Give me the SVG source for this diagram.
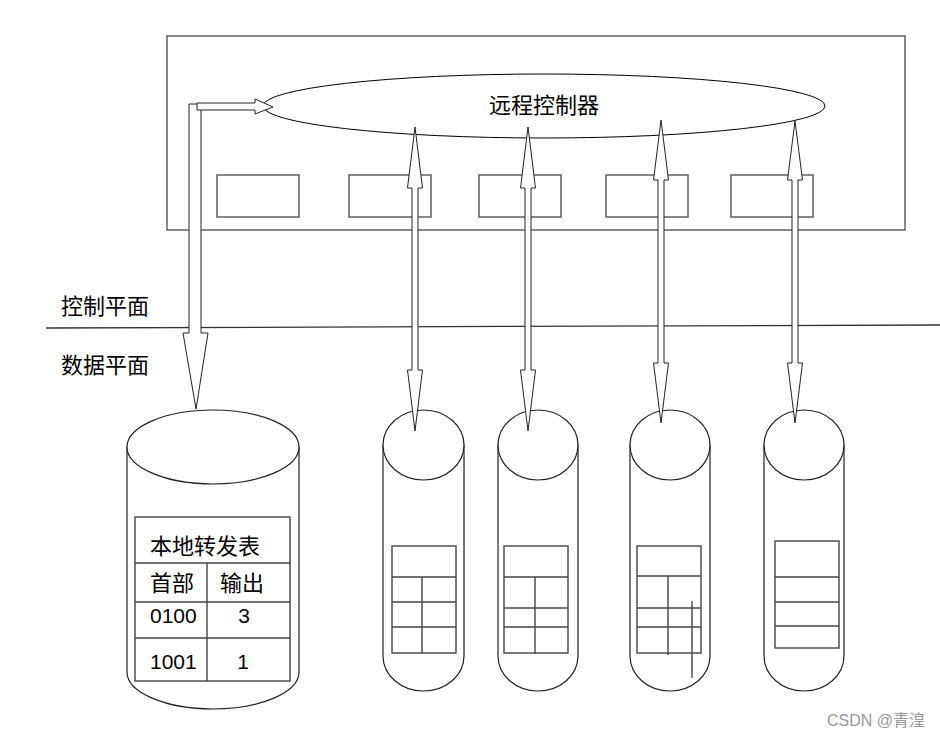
<svg xmlns="http://www.w3.org/2000/svg" width="940" height="738" viewBox="0 0 940 738">
<style>
.g{fill:none;stroke:#555;stroke-width:1.4}
.k{fill:none;stroke:#000;stroke-width:1}
.cyl{fill:#fff;stroke:#222;stroke-width:1.2}
.arr{fill:#fff;stroke:#222;stroke-width:1}
.t{font-family:"Liberation Sans","Noto Sans CJK SC",sans-serif;font-size:21px;fill:#000}
.c{font-size:22px}
.tbl{fill:none;stroke:#444;stroke-width:1.4}
</style>
<rect width="940" height="738" fill="#fff"/>
<g id="control-box">
<rect class="g" x="167" y="36" width="738" height="194"/>
<rect class="g" x="217" y="175" width="82" height="42"/>
<rect class="g" x="349" y="175" width="82" height="42"/>
<rect class="g" x="479" y="175" width="82" height="42"/>
<rect class="g" x="606" y="175" width="82" height="42"/>
<rect class="g" x="731" y="175" width="82" height="42"/>
</g>
<g id="plane-line">
<line x1="46" y1="328" x2="940" y2="325" stroke="#333" stroke-width="1.3"/>
<text class="t c" x="61" y="314">控制平面</text>
<text class="t c" x="61" y="373">数据平面</text>
</g>
<g id="controller">
<ellipse class="k" cx="544" cy="106" rx="281" ry="32"/>
<text class="t c" x="544" y="113" text-anchor="middle">远程控制器</text>
</g>
<g id="local-switch">
<path class="cyl" d="M127,447 L127,672 A86,37 0 0 0 299,672 L299,447 Z"/>
<ellipse class="cyl" cx="213" cy="447" rx="86" ry="37"/>
<rect class="tbl" x="135" y="517" width="155" height="164"/>
<line class="tbl" x1="135" y1="563" x2="290" y2="563"/>
<line class="tbl" x1="135" y1="602" x2="290" y2="602"/>
<line class="tbl" x1="135" y1="638" x2="290" y2="638"/>
<line class="tbl" x1="207" y1="563" x2="207" y2="681"/>
<text class="t c" x="150" y="554">本地转发表</text>
<text class="t c" x="150" y="591">首部</text>
<text class="t c" x="220" y="591">输出</text>
<text class="t" x="150" y="623">0100</text>
<text class="t" x="244" y="623" text-anchor="middle">3</text>
<text class="t" x="150" y="669">1001</text>
<text class="t" x="243" y="669" text-anchor="middle">1</text>
</g>
<g id="switch1">
<path class="cyl" d="M383,445 L383,656 A40.5,35 0 0 0 464,656 L464,445 Z"/>
<ellipse class="cyl" cx="423.5" cy="445" rx="40.5" ry="35"/>
<rect class="tbl" x="392" y="546" width="64" height="107"/>
<line class="tbl" x1="392" y1="577" x2="456" y2="577"/>
<line class="tbl" x1="392" y1="602" x2="456" y2="602"/>
<line class="tbl" x1="392" y1="627" x2="456" y2="627"/>
<line class="tbl" x1="422" y1="577" x2="422" y2="653"/>
</g>
<g id="switch2">
<path class="cyl" d="M498,445 L498,656 A40,35 0 0 0 578,656 L578,445 Z"/>
<ellipse class="cyl" cx="538" cy="445" rx="40" ry="35"/>
<rect class="tbl" x="504" y="546" width="64" height="107"/>
<line class="tbl" x1="504" y1="577" x2="568" y2="577"/>
<line class="tbl" x1="504" y1="608" x2="568" y2="608"/>
<line class="tbl" x1="504" y1="627" x2="568" y2="627"/>
<line class="tbl" x1="535" y1="577" x2="535" y2="654"/>
</g>
<g id="switch3">
<path class="cyl" d="M630,445 L630,656 A40,35 0 0 0 710,656 L710,445 Z"/>
<ellipse class="cyl" cx="670" cy="445" rx="40" ry="35"/>
<rect class="tbl" x="637" y="546" width="64" height="107"/>
<line class="tbl" x1="637" y1="576" x2="701" y2="576"/>
<line class="tbl" x1="637" y1="608" x2="701" y2="608"/>
<line class="tbl" x1="637" y1="627" x2="701" y2="627"/>
<line class="tbl" x1="668" y1="576" x2="668" y2="655"/>
<line class="tbl" x1="692" y1="601" x2="692" y2="678"/>
</g>
<g id="switch4">
<path class="cyl" d="M764,445 L764,656 A40,35 0 0 0 844,656 L844,445 Z"/>
<ellipse class="cyl" cx="804" cy="445" rx="40" ry="35"/>
<rect class="tbl" x="775" y="541" width="64" height="107"/>
<line class="tbl" x1="775" y1="577" x2="839" y2="577"/>
<line class="tbl" x1="775" y1="602" x2="839" y2="602"/>
<line class="tbl" x1="775" y1="626" x2="839" y2="626"/>
</g>
<g id="connectors">
<polygon class="arr" points="189,104 201,104 201,333 208,333 196,409 183,333 189,333"/>
<polygon class="arr" points="197,103 255,103 255,99 273,107 255,114 255,110 197,110"/>
<polygon class="arr" points="415,127 422.5,188 418,188 418,370 422.5,370 415,431 407.5,370 412,370 412,188 407.5,188"/>
<polygon class="arr" points="528,127 535.5,188 531,188 531,370 535.5,370 528,431 520.5,370 525,370 525,188 520.5,188"/>
<polygon class="arr" points="661,120 668.5,180 664,180 664,363 668.5,363 661,423 653.5,363 658,363 658,180 653.5,180"/>
<polygon class="arr" points="795,121 802.5,180 798,180 798,363 802.5,363 795,423 787.5,363 792,363 792,180 787.5,180"/>
</g>
<text x="925" y="726" text-anchor="end" font-family="Liberation Sans,'Noto Sans CJK SC',sans-serif" font-size="16" fill="#999">CSDN @青湟</text>
</svg>
